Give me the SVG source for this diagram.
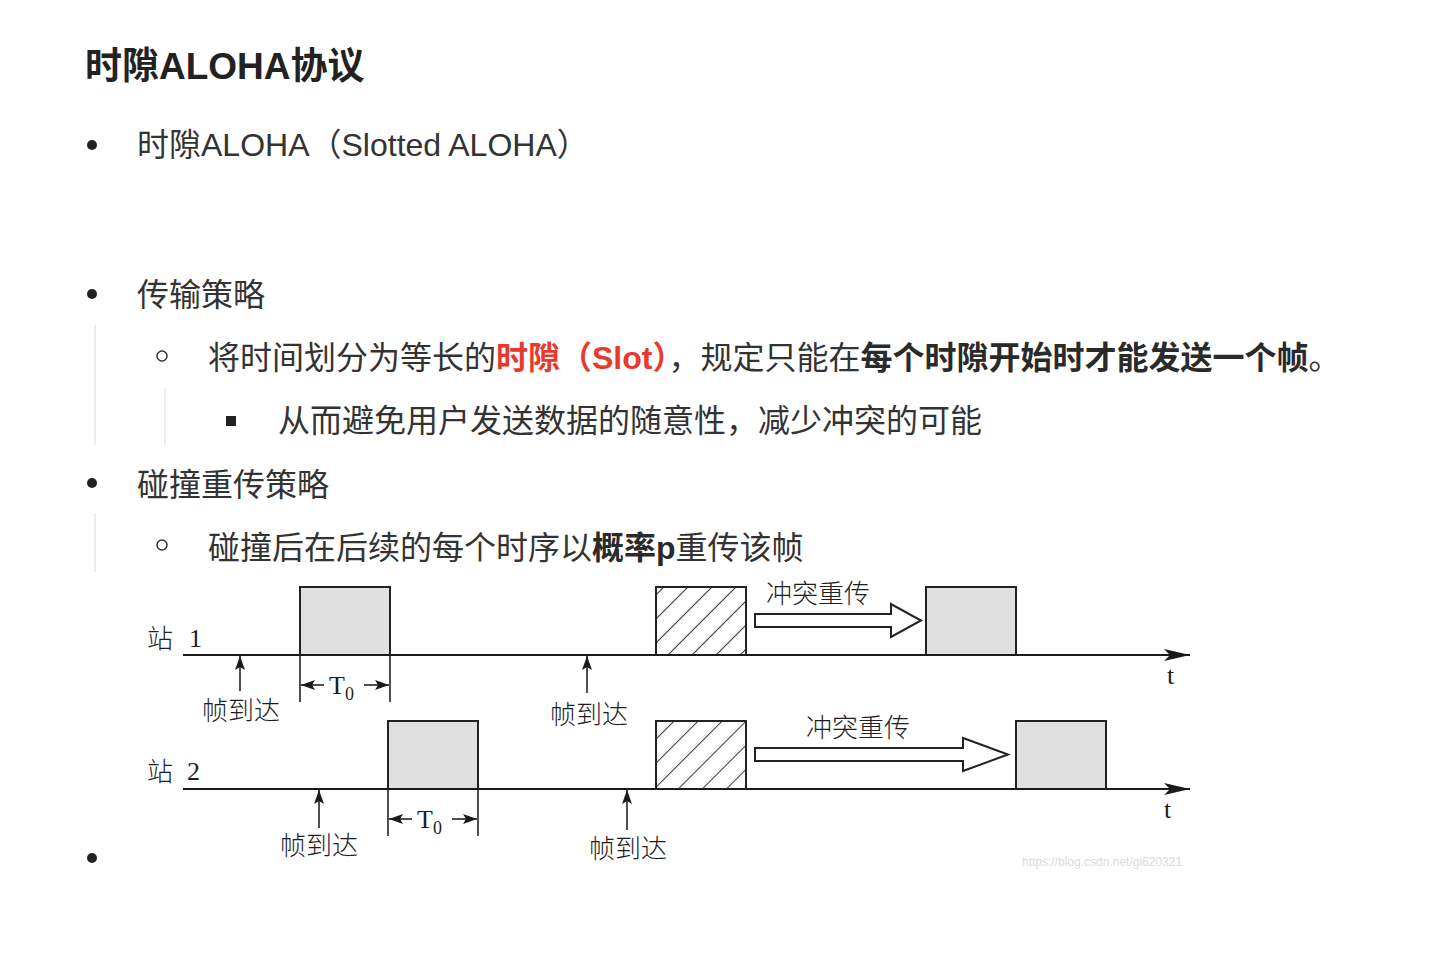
<svg xmlns="http://www.w3.org/2000/svg" width="1436" height="976" viewBox="0 0 1436 976">
  <style>
    .doc { font-family: "Liberation Sans", "Noto Sans CJK SC", sans-serif; fill: #333; font-size: 32px; }
    .title { font-size: 37px; font-weight: bold; fill: #222; }
    .b { font-weight: bold; fill: #2a2a2a; }
    .red { font-weight: bold; fill: #e8392b; }
    .guide { stroke: #e6e6e6; stroke-width: 1.5; }
    .cjk { font-family: "Noto Sans CJK SC", sans-serif; font-weight: 300; font-size: 26px; fill: #1e1e1e; }
    .ser { font-family: "Liberation Serif", serif; fill: #1e1e1e; font-size: 26px; }
    .axis { stroke: #1a1a1a; stroke-width: 2; fill: none; }
    .frame { fill: #e0e0e0; stroke: #222; stroke-width: 2; }
    .hatch { fill: url(#diag); stroke: #222; stroke-width: 2; }
    .tick { stroke: #222; stroke-width: 1.6; fill: none; }
    .big { fill: #fff; stroke: #222; stroke-width: 2; }
    .wm { font-family: "Liberation Sans", sans-serif; font-size: 12px; fill: #dadada; }
  </style>
  <defs>
    <pattern id="diag" width="17" height="17" patternUnits="userSpaceOnUse" patternTransform="rotate(45)">
      <rect width="17" height="17" fill="#fff"/>
      <line x1="0" y1="0" x2="0" y2="17" stroke="#222" stroke-width="1.8"/>
    </pattern>
    <marker id="head" viewBox="0 0 14 10" refX="14" refY="5" markerWidth="14" markerHeight="10" markerUnits="userSpaceOnUse" orient="auto">
      <path d="M0,0 L14,5 L0,10 L3,5 Z" fill="#1a1a1a"/>
    </marker>
    <marker id="taxis" viewBox="0 0 26 12" refX="26" refY="6" markerWidth="26" markerHeight="12" markerUnits="userSpaceOnUse" orient="auto">
      <path d="M0,0 L26,6 L0,12 L6,6 Z" fill="#1a1a1a"/>
    </marker>
  </defs>

  <rect width="1436" height="976" fill="#fff"/>

  <!-- heading and bullet list -->
  <g id="text">
    <text class="doc title" x="85" y="79">时隙ALOHA协议</text>

    <circle cx="92" cy="145" r="5" fill="#222"/>
    <text class="doc" x="137" y="156">时隙ALOHA（Slotted ALOHA）</text>

    <circle cx="92" cy="294" r="5" fill="#222"/>
    <text class="doc" x="137" y="306">传输策略</text>
    <line class="guide" x1="95" y1="325" x2="95" y2="445"/>
    <circle cx="162" cy="356" r="5" fill="none" stroke="#333" stroke-width="1.5"/>
    <text class="doc" x="208" y="369">将时间划分为等长的<tspan class="red">时隙（Slot）</tspan>，规定只能在<tspan class="b">每个时隙开始时才能发送一个帧</tspan>。</text>
    <line class="guide" x1="165" y1="388" x2="165" y2="445"/>
    <rect x="226" y="416" width="10" height="10" fill="#222"/>
    <text class="doc" x="278" y="432">从而避免用户发送数据的随意性，减少冲突的可能</text>

    <circle cx="92" cy="483" r="5" fill="#222"/>
    <text class="doc" x="137" y="496">碰撞重传策略</text>
    <line class="guide" x1="95" y1="513" x2="95" y2="572"/>
    <circle cx="162" cy="545" r="5" fill="none" stroke="#333" stroke-width="1.5"/>
    <text class="doc" x="208" y="559">碰撞后在后续的每个时序以<tspan class="b">概率p</tspan>重传该帧</text>

    <circle cx="92" cy="858" r="5" fill="#222"/>
  </g>

  <!-- station 1 timeline -->
  <g id="station1">
    <text class="cjk" x="147" y="648">站</text>
    <text class="ser" x="189" y="647">1</text>
    <rect class="frame" x="300" y="587" width="90" height="68"/>
    <rect class="hatch" x="656" y="587" width="90" height="68"/>
    <rect class="frame" x="926" y="587" width="90" height="68"/>
    <text class="cjk" x="766" y="603">冲突重传</text>
    <text class="ser" x="1167" y="684">t</text>
    <text class="ser" x="329" y="694">T<tspan font-size="18" dy="6">0</tspan></text>
    <text class="cjk" x="241" y="720" text-anchor="middle">帧到达</text>
    <text class="cjk" x="589" y="724" text-anchor="middle">帧到达</text>
  </g>

  <!-- station 2 timeline -->
  <g id="station2">
    <text class="cjk" x="147" y="781">站</text>
    <text class="ser" x="187" y="780">2</text>
    <rect class="frame" x="388" y="721" width="90" height="68"/>
    <rect class="hatch" x="656" y="721" width="90" height="68"/>
    <rect class="frame" x="1016" y="721" width="90" height="68"/>
    <text class="cjk" x="806" y="737">冲突重传</text>
    <text class="ser" x="1164" y="818">t</text>
    <text class="ser" x="417" y="828">T<tspan font-size="18" dy="6">0</tspan></text>
    <text class="cjk" x="319" y="855" text-anchor="middle">帧到达</text>
    <text class="cjk" x="628" y="858" text-anchor="middle">帧到达</text>
  </g>

  <g id="connectors">
    <!-- time axes -->
    <line class="axis" x1="183" y1="655" x2="1190" y2="655" marker-end="url(#taxis)"/>
    <line class="axis" x1="183" y1="789" x2="1190" y2="789" marker-end="url(#taxis)"/>

    <!-- frame arrivals -->
    <line class="tick" x1="240" y1="691" x2="240" y2="656" marker-end="url(#head)"/>
    <line class="tick" x1="587" y1="693" x2="587" y2="656" marker-end="url(#head)"/>
    <line class="tick" x1="319" y1="828" x2="319" y2="790" marker-end="url(#head)"/>
    <line class="tick" x1="627" y1="830" x2="627" y2="790" marker-end="url(#head)"/>

    <!-- slot width T0, station 1 -->
    <line class="tick" x1="300" y1="655" x2="300" y2="702"/>
    <line class="tick" x1="390" y1="655" x2="390" y2="702"/>
    <line class="tick" x1="324" y1="685" x2="301" y2="685" marker-end="url(#head)"/>
    <line class="tick" x1="364" y1="685" x2="389" y2="685" marker-end="url(#head)"/>

    <!-- slot width T0, station 2 -->
    <line class="tick" x1="388" y1="789" x2="388" y2="836"/>
    <line class="tick" x1="478" y1="789" x2="478" y2="836"/>
    <line class="tick" x1="412" y1="819" x2="389" y2="819" marker-end="url(#head)"/>
    <line class="tick" x1="452" y1="819" x2="477" y2="819" marker-end="url(#head)"/>

    <!-- retransmission arrows -->
    <polygon class="big" points="755,614 891,614 891,604 921,620.5 891,637 891,627 755,627"/>
    <polygon class="big" points="755,748 963,748 963,738 1008,754.5 963,771 963,761 755,761"/>
  </g>

  <text class="wm" x="1022" y="866">https://blog.csdn.net/gl620321</text>
</svg>
